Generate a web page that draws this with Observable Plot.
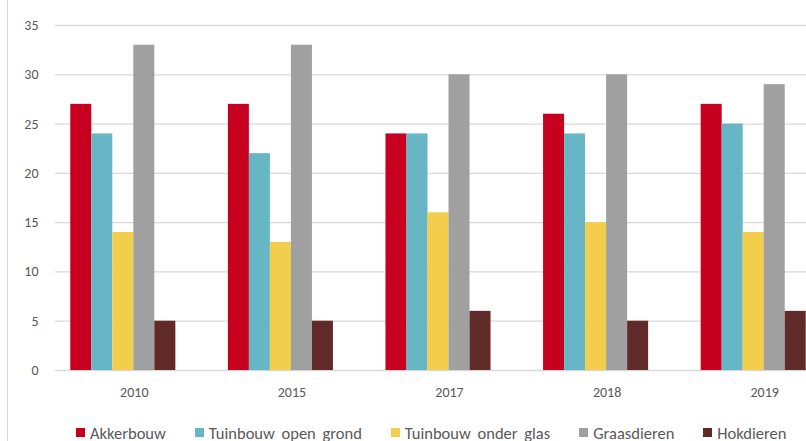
<!DOCTYPE html>
<html>
<head>
<meta charset="utf-8">
<script src="https://cdn.jsdelivr.net/npm/d3@7"></script>
<script src="https://cdn.jsdelivr.net/npm/@observablehq/plot@0.6"></script>
<style>
  html, body { margin: 0; padding: 0; background: #fff; }
  #chart { position: relative; width: 806px; height: 441px; overflow: hidden; background: #fff;
           font-family: Carlito, Calibri, Lato, sans-serif; }
  #chart::before { content: ""; position: absolute; left: 7px; top: 0; bottom: 0;
                   border-left: 1px solid #d9d9d9; }
  #grid, #bars { position: absolute; left: 0; top: 0; }
  #legend { position: absolute; left: 76px; top: 416px; width: 760px; }
  .lg-swatches { font-family: Carlito, Calibri, Lato, sans-serif !important; font-size: 16.5px !important;
                 word-spacing: 3px; color: #595959 !important; flex-wrap: nowrap !important; }
  .lg-swatch { margin-right: 29px !important; }
  .lg-swatch > svg { margin-right: 5px !important; }
</style>
</head>
<body>
<div id="chart"><div id="grid"></div><div id="bars"></div><div id="legend"></div></div>
<script>
// Survey years along the x axis
const years = ["2010", "2015", "2017", "2018", "2019"];
// Farm types, one bar each per year
const series = ["Akkerbouw", "Tuinbouw open grond", "Tuinbouw onder glas", "Graasdieren", "Hokdieren"];
const colors = ["#c8001f", "#67b6c6", "#f2ce4c", "#a0a0a0", "#5f2a28"];
// Values per farm type, in the order of the years
const akkerbouw = [27, 27, 24, 26, 27];
const tuinbouwOpenGrond = [24, 22, 24, 24, 25];
const tuinbouwOnderGlas = [14, 13, 16, 15, 14];
const graasdieren = [33, 33, 30, 30, 29];
const hokdieren = [5, 5, 6, 5, 6];
const yTicks = [0, 5, 10, 15, 20, 25, 30, 35];

const valuesBySeries = [akkerbouw, tuinbouwOpenGrond, tuinbouwOnderGlas, graasdieren, hokdieren];
const rows = series.flatMap((s, i) => years.map((y, j) => ({year: y, series: s, value: valuesBySeries[i][j]})));

const textColor = "#595959";
const font = "Carlito, Calibri, Lato, sans-serif";
// Shared vertical layout so both layers use the same y positions
const frame = {width: 806, height: 410, marginTop: 25, marginBottom: 40};
const yScale = {domain: [0, 35], label: null};

// Back layer: value axis and horizontal gridlines across the plot area
const gridLayer = Plot.plot({
  ...frame,
  marginLeft: 55,
  marginRight: 0,
  style: {fontFamily: font, fontSize: "14px", color: textColor, background: "transparent"},
  x: {axis: null},
  y: yScale,
  marks: [
    Plot.gridY(yTicks, {stroke: "#d9d9d9", strokeOpacity: 1, strokeWidth: 1.3}),
    Plot.axisY(yTicks, {tickSize: 0, tickPadding: 17, label: null, fill: textColor})
  ]
});
document.getElementById("grid").appendChild(gridLayer);

// Front layer: grouped bars, one facet per year
const barLayer = Plot.plot({
  ...frame,
  marginLeft: 44,
  marginRight: 0,
  style: {fontFamily: font, fontSize: "14px", color: textColor, background: "transparent", overflow: "hidden"},
  fx: {domain: years, range: [44, 832], padding: 0, round: false, label: null},
  x: {domain: series, paddingInner: 0, paddingOuter: 1.25, round: false, axis: null},
  y: {...yScale, axis: null},
  color: {domain: series, range: colors},
  marks: [
    Plot.barY(rows, {fx: "year", x: "series", y: "value", fill: "series"}),
    Plot.axisFx({anchor: "bottom", tickSize: 0, tickPadding: 17, dx: 11, label: null, fill: textColor})
  ]
});
document.getElementById("bars").appendChild(barLayer);

const legend = Plot.legend({
  color: {domain: series, range: colors},
  swatchSize: 9,
  className: "lg"
});
document.getElementById("legend").appendChild(legend);
</script>
</body>
</html>
